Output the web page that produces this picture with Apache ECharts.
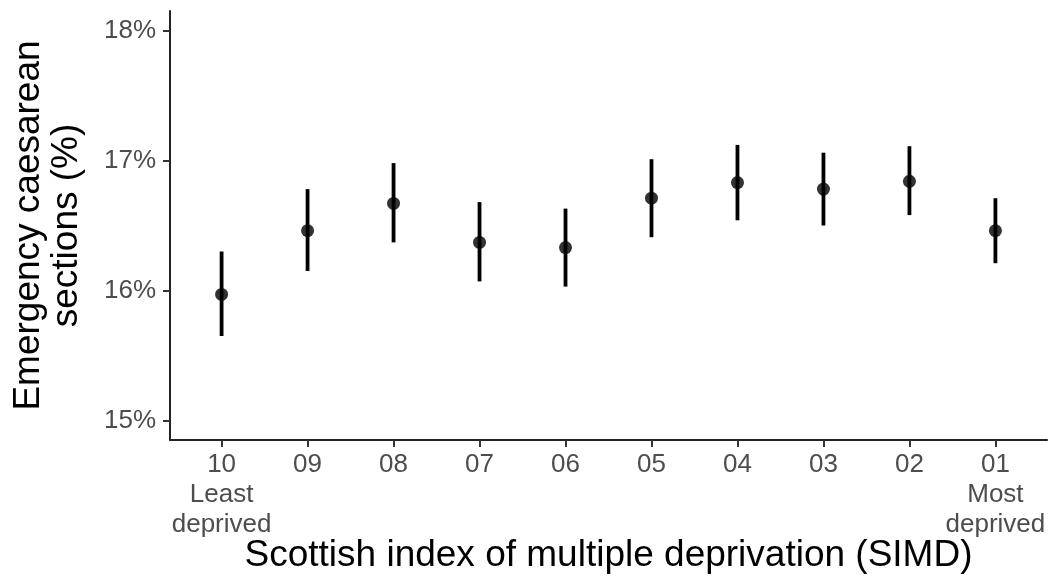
<!DOCTYPE html>
<html>
<head>
<meta charset="utf-8">
<script src="https://cdn.jsdelivr.net/npm/echarts@6/dist/echarts.min.js"></script>
<style>
  html, body { margin: 0; padding: 0; background: #fff; }
  #chart { width: 1059px; height: 582px; }
</style>
</head>
<body>
<div id="chart"></div>
<script>
// SIMD deciles, least deprived (10) to most deprived (01)
const deciles = ['10', '09', '08', '07', '06', '05', '04', '03', '02', '01'];
const decileNotes = { '10': 'Least\ndeprived', '01': 'Most\ndeprived' };
// Emergency caesarean section rate (%) with 95% confidence interval
const rate  = [15.97, 16.46, 16.67, 16.37, 16.33, 16.71, 16.83, 16.78, 16.84, 16.46];
const lower = [15.65, 16.15, 16.37, 16.07, 16.03, 16.41, 16.54, 16.50, 16.58, 16.21];
const upper = [16.30, 16.78, 16.98, 16.68, 16.63, 17.01, 17.12, 17.06, 17.11, 16.71];
const yTicks = [15, 16, 17, 18];

const positions = deciles.map((_, i) => i + 1);
const FONT = 'Liberation Sans';

const chart = echarts.init(document.getElementById('chart'), null, { renderer: 'canvas' });

const option = {
  backgroundColor: '#ffffff',
  animation: false,
  textStyle: { fontFamily: FONT },
  grid: { left: 170, right: 12, top: 11, bottom: 142, containLabel: false, outerBoundsMode: 'none' },
  xAxis: {
    type: 'value',
    min: 0.4,
    max: 10.6,
    name: 'Scottish index of multiple deprivation (SIMD)',
    nameLocation: 'middle',
    nameGap: 97,
    nameMoveOverlap: false,
    nameTextStyle: { fontFamily: FONT, fontSize: 37, color: '#000' },
    splitLine: { show: false },
    axisLine: { show: true, onZero: false, lineStyle: { color: '#222', width: 2 } },
    axisTick: { show: true, customValues: positions, length: 7, lineStyle: { color: '#333', width: 2 } },
    axisLabel: {
      customValues: positions,
      margin: 10,
      fontFamily: FONT,
      fontSize: 26,
      lineHeight: 30,
      color: '#4D4D4D',
      formatter: function (v) {
        const d = deciles[Math.round(v) - 1];
        return decileNotes[d] ? d + '\n' + decileNotes[d] : d;
      }
    }
  },
  yAxis: {
    type: 'value',
    min: 14.85,
    max: 18.15,
    name: 'Emergency caesarean\nsections (%)',
    nameLocation: 'middle',
    nameGap: 84,
    nameMoveOverlap: false,
    nameRotate: 90,
    nameTextStyle: { fontFamily: FONT, fontSize: 37, color: '#000', lineHeight: 38, align: 'center' },
    splitLine: { show: false },
    axisLine: { show: true, onZero: false, lineStyle: { color: '#222', width: 2 } },
    axisTick: { show: true, customValues: yTicks, length: 7, lineStyle: { color: '#333', width: 2 } },
    axisLabel: {
      customValues: yTicks,
      margin: 14,
      fontFamily: FONT,
      fontSize: 26,
      color: '#4D4D4D',
      formatter: v => v + '%'
    }
  },
  series: [
    {
      // 95% confidence interval bars
      type: 'custom',
      data: positions.map((x, i) => [x, lower[i], upper[i]]),
      encode: { x: 0, y: [1, 2] },
      renderItem: function (params, api) {
        const lo = api.coord([api.value(0), api.value(1)]);
        const hi = api.coord([api.value(0), api.value(2)]);
        return {
          type: 'line',
          shape: { x1: lo[0], y1: lo[1], x2: hi[0], y2: hi[1] },
          style: { stroke: '#000', lineWidth: 3.8 }
        };
      },
      z: 2
    },
    {
      type: 'scatter',
      data: positions.map((x, i) => [x, rate[i]]),
      symbol: 'circle',
      symbolSize: 13,
      itemStyle: { color: '#000' },
      z: 3
    }
  ]
};

chart.setOption(option);
</script>
</body>
</html>
